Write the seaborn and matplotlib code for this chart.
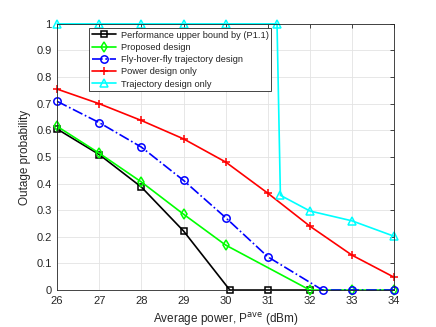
import matplotlib
matplotlib.use('Agg')
import matplotlib.pyplot as plt
import seaborn as sns

# power levels (dBm) and outage probabilities
x_bound = [26, 27, 28, 29, 30.1, 31, 32]
y_bound = [0.605, 0.509, 0.387, 0.222, 0.0, 0.0, 0.0]

x_prop = [26, 27, 28, 29, 30, 32, 33, 34]
y_prop = [0.615, 0.514, 0.406, 0.285, 0.169, 0.0, 0.0, 0.0]

x_fhf = [26, 27, 28, 29, 30, 31, 32.3, 33, 34]
y_fhf = [0.709, 0.629, 0.537, 0.412, 0.272, 0.125, 0.0, 0.0, 0.0]

x_pow = [26, 27, 28, 29, 30, 31, 32, 33, 34]
y_pow = [0.755, 0.70, 0.637, 0.568, 0.481, 0.364, 0.240, 0.131, 0.048]

x_traj = [26, 27, 28, 29, 30, 31.22, 31.3, 32, 33, 34]
y_traj = [1.0, 1.0, 1.0, 1.0, 1.0, 1.0, 0.356, 0.297, 0.26, 0.202]

sns.set_style('whitegrid')
plt.rcParams['font.family'] = ['Liberation Sans', 'DejaVu Sans']

fig, ax = plt.subplots(figsize=(4.36, 3.27), dpi=100)
fig.subplots_adjust(left=0.131, right=0.904, bottom=0.113, top=0.927)

series = [
    (x_bound, y_bound, 'black', 's', '-', 'Performance upper bound by (P1.1)', 3.8),
    (x_prop, y_prop, '#00ff00', 'd', '-', 'Proposed design', 5),
    (x_fhf, y_fhf, 'blue', 'o', '-.', 'Fly-hover-fly trajectory design', 5.3),
    (x_pow, y_pow, 'red', '+', '-', 'Power design only', 6),
    (x_traj, y_traj, 'cyan', '^', '-', 'Trajectory design only', 6),
]
for xs, ys, col, mk, ls, lab, ms in series:
    sns.lineplot(x=xs, y=ys, ax=ax, color=col, marker=mk, linestyle=ls,
                 label=lab, linewidth=1.2, markersize=ms, mfc='none',
                 mec=col, mew=1.1, sort=False, estimator=None, clip_on=False)

ax.set_xlim(26, 34)
ax.set_ylim(0, 1)
ax.set_xticks(range(26, 35))
ax.set_yticks([i / 10 for i in range(11)])
ax.set_yticklabels(['0'] + [f'{i / 10:.1f}' for i in range(1, 10)] + ['1'])
ax.grid(True, color='#e3e3e3', linewidth=0.6)
for sp in ax.spines.values():
    sp.set_color('#262626')
    sp.set_linewidth(0.6)
ax.tick_params(direction='in', length=3, width=0.6, labelsize=8,
               colors='#262626', top=True, right=True, pad=4)

ax.set_xlabel('Average power, P$^{\\rm ave}$ (dBm)', fontsize=8.5, color='#262626')
ax.set_ylabel('Outage probability', fontsize=8.5, color='#262626')

leg = ax.legend(loc='upper left', bbox_to_anchor=(0.095, 0.985),
                borderaxespad=0, fontsize=6.7, frameon=True, fancybox=False,
                framealpha=1, edgecolor='#262626', handlelength=2.6,
                labelspacing=0.35, borderpad=0.3, handletextpad=0.5)
leg.get_frame().set_linewidth(0.6)

plt.savefig('out.png', dpi=100)
